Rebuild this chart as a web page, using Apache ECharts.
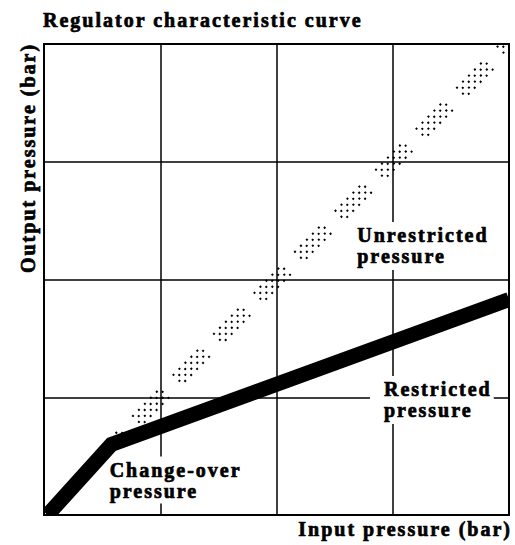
<!DOCTYPE html>
<html>
<head>
<meta charset="utf-8">
<style>
  html, body { margin: 0; padding: 0; background: #fff; }
  #chart { width: 515px; height: 545px; }
  /* spaced-out lettering of the printed diagram */
  #chart text { letter-spacing: 2px; }
</style>
<script src="https://cdn.jsdelivr.net/npm/echarts@6/dist/echarts.min.js"></script>
</head>
<body>
<div id="chart"></div>
<script>
// Pressure scale in bar, four divisions on each axis
const axisMin = 0;
const axisMax = 4;
const axisStep = 1;

// Regulated output: steep rise up to the change-over point, then a flatter slope
const restrictedInput  = [0.03, 0.58, 4];
const restrictedOutput = [0, 0.60, 1.83];

// Without regulation the output simply follows the input
const unrestrictedInput  = [0.6, 4];
const unrestrictedOutput = [0.6, 4];

const noteText = ['Unrestricted\npressure', 'Restricted\npressure', 'Change-over\npressure'];
const noteAt = [[2.63, 2.285], [2.80, 0.977], [0.50, 0.297]];
const notePad = [[3, 24, 3, 7], [3, 22, 3, 14], [2, 22, 3, 7]];

const titleText = 'Regulator characteristic curve';
const xName = 'Input pressure (bar)';
const yName = 'Output pressure (bar)';

const FONT = '"Liberation Serif", "Times New Roman", serif';
const INK = '#000';
const INK_WEIGHT = 0.7;   // slight stroke to give the heavy printed lettering

const chart = echarts.init(document.getElementById('chart'), null, { renderer: 'svg' });

// The unrestricted curve is drawn as a stippled band: a few parallel rows of
// square dots, grouped into short runs along the diagonal.
const rowShift = 0.0255;         // perpendicular spacing between rows (data units)
const dotGap = 8.49;             // dot pitch along a row, px
const runPeriod = 57.66;         // run + gap, px
const dot = 2;
const dash = [];
for (let i = 0; i < 5; i++) {
  dash.push(dot);
  dash.push(i < 4 ? dotGap - dot : runPeriod - 4 * dotGap - dot);
}

const stippleRows = [];
for (let k = 0; k < 4; k++) {
  const s = (k - 1.5) * rowShift;
  stippleRows.push({
    type: 'line',
    name: 'Unrestricted pressure',
    silent: true,
    symbol: 'none',
    z: 2,
    data: unrestrictedInput.map((x, i) => [x - s, unrestrictedOutput[i] + s]),
    lineStyle: {
      color: INK,
      width: dot,
      type: dash,
      dashOffset: 21.2 + (k % 2) * dotGap / 2,
      cap: 'butt'
    }
  });
}

// Thick regulated curve as a polyline clipped exactly to the plot frame
const restrictedPoints = restrictedInput.map((x, i) => [x, restrictedOutput[i]]);
function renderRestricted(params, api) {
  if (params.dataIndex !== 0) return null;
  const pts = restrictedPoints.map(p => api.coord(p));
  return {
    type: 'polyline',
    shape: { points: pts },
    style: { stroke: INK, fill: null, lineWidth: 15, lineCap: 'butt', lineJoin: 'miter' },
    silent: true
  };
}

const option = {
  animation: false,
  backgroundColor: '#fff',
  title: {
    text: titleText,
    left: 43,
    top: 10,
    padding: 0,
    textStyle: {
      fontFamily: FONT, fontWeight: 'bold', fontSize: 20, color: INK,
      textBorderColor: INK, textBorderWidth: INK_WEIGHT
    }
  },
  grid: {
    left: 44, top: 44, width: 465, height: 471,
    show: true, borderColor: INK, borderWidth: 2, backgroundColor: 'transparent'
  },
  xAxis: {
    type: 'value', min: axisMin, max: axisMax, interval: axisStep,
    axisLine: { show: false }, axisTick: { show: false }, axisLabel: { show: false },
    splitLine: { show: true, lineStyle: { color: INK, width: 1.5 } }
  },
  yAxis: {
    type: 'value', min: axisMin, max: axisMax, interval: axisStep,
    axisLine: { show: false }, axisTick: { show: false }, axisLabel: { show: false },
    splitLine: { show: true, lineStyle: { color: INK, width: 1.5 } }
  },
  graphic: [
    {
      type: 'text', x: 512, y: 529, silent: true,
      style: {
        text: xName, fill: INK, stroke: INK, lineWidth: INK_WEIGHT,
        font: 'bold 20px ' + FONT, textAlign: 'right', textVerticalAlign: 'middle'
      }
    },
    {
      type: 'text', x: 28, y: 158, rotation: Math.PI / 2, silent: true,
      style: {
        text: yName, fill: INK, stroke: INK, lineWidth: INK_WEIGHT,
        font: 'bold 20px ' + FONT, textAlign: 'center', textVerticalAlign: 'middle'
      }
    }
  ],
  series: [
    ...stippleRows,
    {
      type: 'scatter',
      silent: true,
      z: 4,
      symbolSize: 1,
      itemStyle: { color: 'transparent', opacity: 1 },
      data: noteText.map((t, i) => ({
        name: t,
        value: noteAt[i],
        label: { padding: notePad[i] }
      })),
      label: {
        show: true,
        position: 'right',
        distance: 0,
        formatter: '{b}',
        align: 'left',
        color: INK,
        opacity: 1,
        fontFamily: FONT,
        fontWeight: 'bold',
        fontSize: 20,
        lineHeight: 21,
        textBorderColor: INK,
        textBorderWidth: INK_WEIGHT,
        backgroundColor: '#fff'
      }
    },
    {
      type: 'custom',
      name: 'Restricted pressure',
      silent: true,
      clip: true,
      z: 6,
      data: restrictedPoints,
      renderItem: renderRestricted
    }
  ]
};

chart.setOption(option);
</script>
</body>
</html>
